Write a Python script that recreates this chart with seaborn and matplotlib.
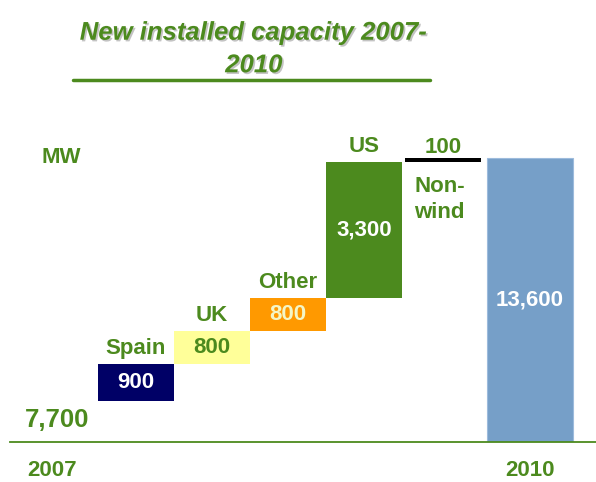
"""
Waterfall: new installed capacity 2007-2010 (MW)
"""

import numpy as np
import matplotlib
matplotlib.use('Agg')
import matplotlib.pyplot as plt
import matplotlib.patheffects as pe
from matplotlib.lines import Line2D
import seaborn as sns

# ── Data ──────────────────────────────────────────────────────────────────
categories = ['Spain', 'UK', 'Other', 'US', 'Non-wind']
increments = [900, 800, 800, 3300, 100]
start_label = '2007'
start_value = 7700
end_label = '2010'
end_value = 13600

bases = start_value + np.concatenate([[0], np.cumsum(increments)[:-1]])

# ── Styling ───────────────────────────────────────────────────────────────
sns.set_style('white')
plt.rcParams['font.family'] = ['Liberation Sans', 'DejaVu Sans']
plt.rcParams['font.weight'] = 'bold'

GREEN = '#4C8A1E'
BAR_COLORS = ['#000066', '#FFFF99', '#FF9900', '#4C8A1E', '#000000']
VALUE_COLORS = ['white', GREEN, '#F4F6C6', 'white', GREEN]
TOTAL_COLOR = '#769FC8'

# layout (x positions of the bars)
xpos = [1, 2, 3, 4, 5.04]
x_start = -0.1
x_end = 6.18

fig = plt.figure(figsize=(5.96, 4.82), dpi=100)
ax = fig.add_axes([10 / 596, 40 / 482, 586 / 596, 302 / 482])

# increments, floating on their running base
sns.barplot(x=xpos, y=increments, bottom=bases, native_scale=True, saturation=1,
            width=1.0, errorbar=None, color=BAR_COLORS[0], linewidth=0, ax=ax)
for patch, c in zip(ax.patches, BAR_COLORS):
    patch.set_facecolor(c)
    patch.set_edgecolor(c)

# 2010 total
sns.barplot(x=[x_end], y=[end_value], native_scale=True, width=1.13, saturation=1,
            errorbar=None, color=TOTAL_COLOR, linewidth=0.8,
            edgecolor='#9DBBDC', ax=ax)

ax.set_xlim(-0.658, 7.053)
ax.set_ylim(6700, 14030)

# ── Labels ────────────────────────────────────────────────────────────────
for x, b, v, cat, vc in zip(xpos, bases, increments, categories, VALUE_COLORS):
    if cat == 'Non-wind':
        ax.annotate(f'{v:,}', (x, b + v), xytext=(0, 0), textcoords='offset points',
                    ha='center', va='bottom', fontsize=16, color=GREEN)
        ax.annotate('Non-\nwind', (x - 0.38, b), xytext=(0, -10), textcoords='offset points',
                    ha='left', va='top', fontsize=16, color=GREEN, linespacing=1.3)
    else:
        ax.text(x, b + v / 2, f'{v:,}', ha='center', va='center',
                fontsize=16, color=vc)
        ax.annotate(cat, (x, b + v), xytext=(0, 3.5), textcoords='offset points',
                    ha='center', va='bottom', fontsize=16, color=GREEN)

ax.text(x_end, (6700 + end_value) / 2, f'{end_value:,}', ha='center', va='center',
        fontsize=16, color='white')
ax.annotate(f'{start_value:,}', (x_start, start_value), xytext=(3, -5),
            textcoords='offset points', ha='center', va='top', fontsize=18.5, color=GREEN)
ax.text(x_start + 0.12, end_value, 'MW', ha='center', va='center', fontsize=16, color=GREEN)

ax.set_xticks([x_start, x_end])
ax.set_xticklabels([start_label, end_label], fontsize=16, color=GREEN, fontweight='bold')
ax.set_yticks([])
ax.tick_params(axis='x', length=0, pad=13)

sns.despine(ax=ax, left=True, top=True, right=True)
ax.spines['bottom'].set_color(GREEN)
ax.spines['bottom'].set_linewidth(1.3)

# ── Title ─────────────────────────────────────────────────────────────────
fig.text(254 / 596, 1 - 49 / 482, 'New installed capacity 2007-\n2010',
         ha='center', va='center', fontsize=18.5, fontstyle='italic',
         fontweight='bold', color=GREEN, linespacing=1.45,
         path_effects=[pe.withSimplePatchShadow(offset=(1.2, -1.2),
                                                shadow_rgbFace='#888888', alpha=0.5)])
fig.add_artist(Line2D([73 / 596, 430 / 596], [1 - 80 / 482, 1 - 80 / 482],
                      color=GREEN, linewidth=2.5, solid_capstyle='round'))

plt.savefig('out.png', dpi=100)
plt.close()
